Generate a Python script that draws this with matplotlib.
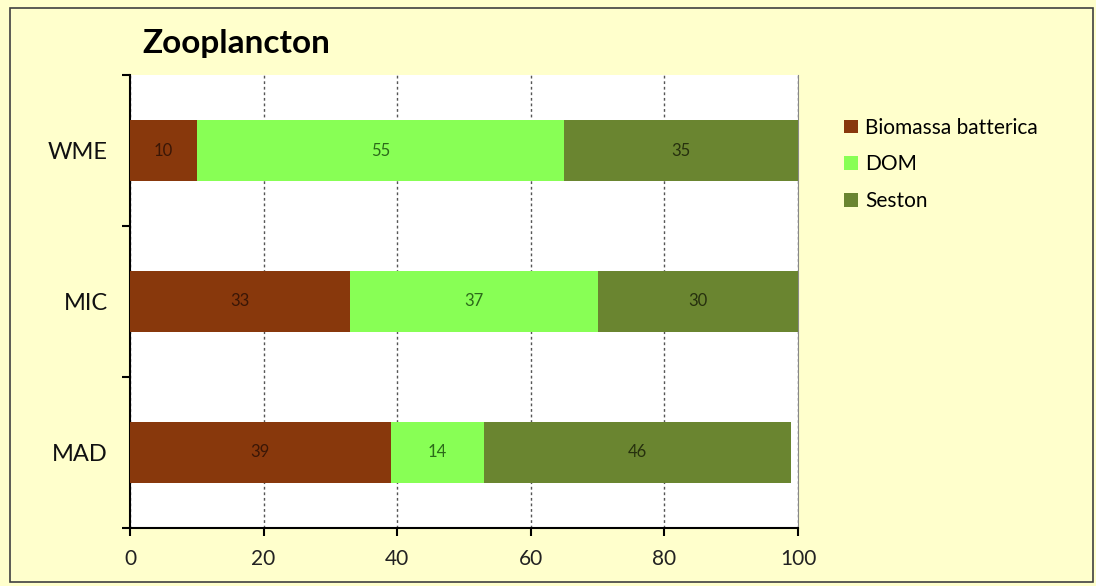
import matplotlib
matplotlib.use("Agg")
import matplotlib.pyplot as plt
from matplotlib.patches import Rectangle

# ------------------------------------------------------------------------
# Data

sites = ['MAD', 'MIC', 'WME']
series = ['Biomassa batterica', 'DOM', 'Seston']
biomassa = [39, 33, 10]
dom = [14, 37, 55]
seston = [46, 30, 35]

colors = ['#88380C', '#88FF55', '#6A8530']
text_colors = ['#3A1606', '#2C6A1A', '#26300E']
bg = '#FFFFCC'

plt.rcParams['font.family'] = ['Lato', 'DejaVu Sans']

# ------------------------------------------------------------------------
# Plotting

fig = plt.figure(figsize=(10.96, 5.86), dpi=100, facecolor=bg)
fig.patches.append(Rectangle((0.009, 0.006), 0.988, 0.981, transform=fig.transFigure,
                             fill=False, edgecolor='#404040', linewidth=1.2))
ax = fig.add_axes([0.1186, 0.099, 0.6095, 0.773])
ax.set_facecolor('white')

ypos = [0.5, 1.5, 2.5]
left = [0, 0, 0]
for vals, name, col, tcol in zip([biomassa, dom, seston], series, colors, text_colors):
    bars = ax.barh(ypos, vals, height=0.4, left=left, color=col, label=name, zorder=3)
    for b, v in zip(bars, vals):
        ax.text(b.get_x() + b.get_width() / 2, b.get_y() + b.get_height() / 2, str(v),
                ha='center', va='center', fontsize=12, color=tcol, zorder=4)
    left = [l + v for l, v in zip(left, vals)]

ax.set_xlim(0, 100)
ax.set_ylim(0, 3)
ax.set_xticks(range(0, 101, 20))
ax.tick_params(axis='x', direction='out', length=6, width=1.5, labelsize=15, pad=9,
               labelcolor='#222222')
ax.set_yticks([0, 1, 2, 3])
ax.set_yticklabels([])
ax.tick_params(axis='y', which='major', direction='out', length=6, width=1.5)
ax.set_yticks(ypos, minor=True)
ax.set_yticklabels(sites, minor=True, fontsize=17, color='#111111')
ax.tick_params(axis='y', which='minor', length=0, pad=16)

ax.grid(axis='x', linestyle=(0, (2, 2)), color='#555555', linewidth=1, zorder=0)
for s in ['left', 'bottom']:
    ax.spines[s].set_linewidth(1.5)
ax.spines['top'].set_visible(False)
ax.spines['right'].set_color('#888888')

fig.text(0.13, 0.925, 'Zooplancton', fontsize=24, fontweight='bold', ha='left', va='center')

fig.legend(loc='upper left', bbox_to_anchor=(0.753, 0.831), frameon=False, fontsize=15,
           handlelength=0.65, handleheight=0.65, handletextpad=0.35, labelspacing=0.8)

fig.savefig('out.png', dpi=100, facecolor=bg)
